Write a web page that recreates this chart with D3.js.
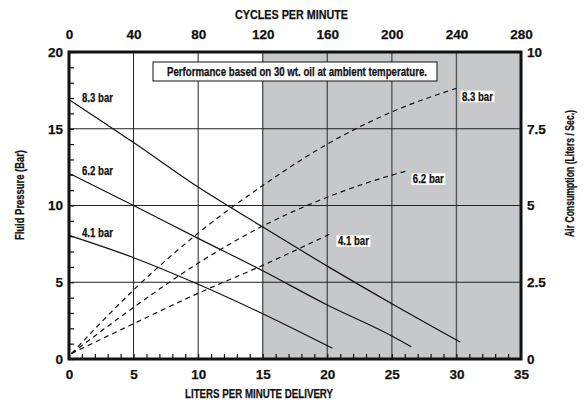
<!DOCTYPE html>
<html>
<head>
<meta charset="utf-8">
<script src="https://cdn.jsdelivr.net/npm/d3@7"></script>
<style>
  body { margin: 0; background: #fff; }
  svg { font-family: 'Liberation Sans', Arial, sans-serif; font-weight: bold; }
  svg text { fill: #111; stroke: #111; stroke-width: 0.25px; }
  .tick text { font-size: 13.5px; font-weight: bold; }
  .lbl { font-size: 12px; }
  .ttl { font-size: 13px; }
</style>
</head>
<body>
<svg width="587" height="403"></svg>
<script>
// **** Data ****

var litersTicks = [0, 5, 10, 15, 20, 25, 30, 35];
var cyclesTicks = [0, 40, 80, 120, 160, 200, 240, 280];
var pressureTicks = [0, 5, 10, 15, 20];
var airTicks = [0, 2.5, 5, 7.5, 10];

// fluid pressure (bar) vs liters per minute
var pressure83 = [[0, 16.9], [5, 14.1], [10, 11.2], [15, 8.6], [20, 6.05], [25, 3.6], [30.3, 1.1]];
var pressure62 = [[0, 12.1], [5, 10.0], [10, 7.86], [15, 5.75], [20, 3.52], [25, 1.5], [26.5, 0.8]];
var pressure41 = [[0, 8.05], [5, 6.6], [10, 4.87], [15, 2.95], [20.4, 0.7]];

// air consumption (liters / sec) vs liters per minute
var air83 = [[0.2, 0.18], [5, 2.25], [10, 4.1], [15, 5.65], [20, 7.0], [25, 8.05], [30, 8.82]];
var air62 = [[0.2, 0.18], [5, 1.68], [10, 3.12], [15, 4.33], [20, 5.27], [25, 5.99], [26.2, 6.13]];
var air41 = [[0.2, 0.18], [5, 1.15], [10, 2.14], [15, 3.05], [20.4, 4.11]];

var seriesNames = ['8.3 bar', '6.2 bar', '4.1 bar'];

// **** Scales ****

var xScale = d3.scaleLinear().domain([0, 35]).range([69, 521]);
var xTopScale = d3.scaleLinear().domain([0, 280]).range([69, 521]);
var yLeft = d3.scaleLinear().domain([0, 20]).range([359, 52]);
var yRight = d3.scaleLinear().domain([0, 10]).range([359, 52]);

var svg = d3.select('svg');

// shaded region from 15 to 35 liters
svg.append('rect')
    .attr('x', xScale(15)).attr('y', yLeft(20))
    .attr('width', xScale(35) - xScale(15))
    .attr('height', yLeft(0) - yLeft(20))
    .attr('fill', '#c7c8ca');

// grid
svg.append('g').selectAll('line')
    .data([5, 10, 15, 20, 25, 30])
    .enter().append('line')
    .attr('x1', d => xScale(d)).attr('x2', d => xScale(d))
    .attr('y1', yLeft(20)).attr('y2', yLeft(0))
    .attr('stroke', d => d >= 15 ? '#555' : '#222')
    .attr('stroke-width', d => d >= 15 ? 1.4 : 1);

svg.append('g').selectAll('line')
    .data([5, 10, 15])
    .enter().append('line')
    .attr('x1', xScale(0)).attr('x2', xScale(35))
    .attr('y1', d => yLeft(d)).attr('y2', d => yLeft(d))
    .attr('stroke', '#222')
    .attr('stroke-width', 1);

// minor ticks (inward)
svg.append('g')
    .attr('transform', 'translate(' + xScale(0) + ',0)')
    .call(d3.axisLeft(yLeft).tickValues(d3.range(0, 21)).tickSize(-5).tickFormat(''))
    .call(g => g.select('.domain').remove())
    .selectAll('line').attr('stroke', '#111').attr('stroke-width', 1.2);

svg.append('g')
    .attr('transform', 'translate(0,' + yLeft(0) + ')')
    .call(d3.axisBottom(xScale).tickValues(d3.range(0, 36)).tickSize(-5).tickFormat(''))
    .call(g => g.select('.domain').remove())
    .selectAll('line').attr('stroke', '#111').attr('stroke-width', 1.2);

// tick labels
function plainAxis(g) {
    g.select('.domain').remove();
    g.selectAll('.tick line').remove();
}

svg.append('g')
    .attr('transform', 'translate(0,' + (yLeft(0) + 3) + ')')
    .call(d3.axisBottom(xScale).tickValues(litersTicks).tickSize(0).tickPadding(7))
    .call(plainAxis);

svg.append('g')
    .attr('transform', 'translate(0,' + (yLeft(20) - 10) + ')')
    .call(d3.axisTop(xTopScale).tickValues(cyclesTicks).tickSize(0).tickPadding(3))
    .call(plainAxis);

svg.append('g')
    .attr('transform', 'translate(' + (xScale(0) - 3) + ',0)')
    .call(d3.axisLeft(yLeft).tickValues(pressureTicks).tickSize(0).tickPadding(3))
    .call(plainAxis);

svg.append('g')
    .attr('transform', 'translate(' + (xScale(35) + 3) + ',0)')
    .call(d3.axisRight(yRight).tickValues(airTicks).tickSize(0).tickPadding(3).tickFormat(d => d))
    .call(plainAxis);

// frame
svg.append('rect')
    .attr('x', xScale(0)).attr('y', yLeft(20))
    .attr('width', xScale(35) - xScale(0))
    .attr('height', yLeft(0) - yLeft(20))
    .attr('fill', 'none')
    .attr('stroke', '#111')
    .attr('stroke-width', 3);

// **** Curves ****

var pressureLine = d3.line()
    .x(d => xScale(d[0])).y(d => yLeft(d[1]))
    .curve(d3.curveMonotoneX);

var airLine = d3.line()
    .x(d => xScale(d[0])).y(d => yRight(d[1]))
    .curve(d3.curveMonotoneX);

[pressure83, pressure62, pressure41].forEach(function(s) {
    svg.append('path').datum(s)
        .attr('d', pressureLine)
        .attr('fill', 'none').attr('stroke', '#111').attr('stroke-width', 1.2);
});

[air83, air62, air41].forEach(function(s) {
    svg.append('path').datum(s)
        .attr('d', airLine)
        .attr('fill', 'none').attr('stroke', '#111').attr('stroke-width', 1.2)
        .attr('stroke-dasharray', '5,4');
});

// left labels for pressure lines
[pressure83, pressure62, pressure41].forEach(function(s, i) {
    svg.append('text')
        .attr('class', 'lbl')
        .attr('x', xScale(0) + 13)
        .attr('y', yLeft(s[0][1]) + 2)
        .attr('textLength', 31).attr('lengthAdjust', 'spacingAndGlyphs')
        .text(seriesNames[i]);
});

// right labels for air lines, white background
[air83, air62, air41].forEach(function(s, i) {
    var last = s[s.length - 1];
    var g = svg.append('g')
        .attr('transform', 'translate(' + (xScale(last[0]) + 4) + ',' + (yRight(last[1]) + 8) + ')');
    g.append('rect')
        .attr('x', 0).attr('y', -5.5)
        .attr('width', 34).attr('height', 11.5)
        .attr('fill', '#fff').attr('stroke', 'none');
    g.append('text').attr('class', 'lbl').attr('x', 1.5).attr('y', 4.5)
        .attr('textLength', 31).attr('lengthAdjust', 'spacingAndGlyphs')
        .text(seriesNames[i]);
});

// note box
var note = svg.append('g');
note.append('rect')
    .attr('x', 153).attr('y', 62).attr('width', 284).attr('height', 19)
    .attr('fill', '#fff').attr('stroke', '#111').attr('stroke-width', 1);
note.append('text')
    .attr('class', 'lbl')
    .attr('x', 167).attr('y', 76)
    .attr('textLength', 260).attr('lengthAdjust', 'spacingAndGlyphs')
    .text('Performance based on 30 wt. oil at ambient temperature.');

// axis titles
svg.append('text')
    .attr('class', 'ttl')
    .attr('x', 235).attr('y', 19)
    .attr('textLength', 113).attr('lengthAdjust', 'spacingAndGlyphs')
    .text('CYCLES PER MINUTE');

svg.append('text')
    .attr('class', 'ttl')
    .attr('x', 185).attr('y', 398)
    .attr('textLength', 148).attr('lengthAdjust', 'spacingAndGlyphs')
    .text('LITERS PER MINUTE DELIVERY');

svg.append('text')
    .attr('class', 'ttl')
    .attr('transform', 'translate(24,240) rotate(-90)')
    .attr('textLength', 90).attr('lengthAdjust', 'spacingAndGlyphs')
    .text('Fluid Pressure (Bar)');

svg.append('text')
    .attr('class', 'ttl')
    .attr('transform', 'translate(574,237) rotate(-90)')
    .attr('textLength', 127).attr('lengthAdjust', 'spacingAndGlyphs')
    .text('Air Consumption (Liters / Sec.)');
</script>
</body>
</html>
